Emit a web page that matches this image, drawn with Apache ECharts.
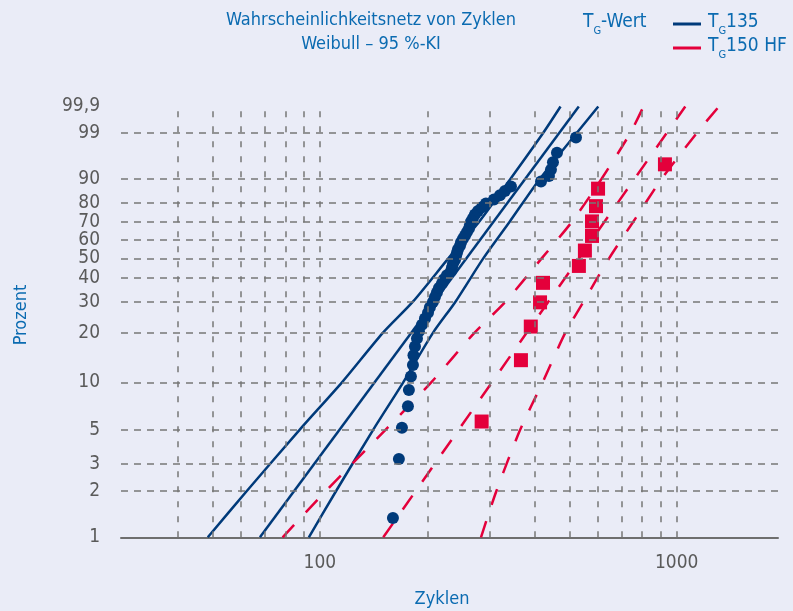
<!DOCTYPE html>
<html><head><meta charset="utf-8">
<script src="https://cdn.jsdelivr.net/npm/echarts@6/dist/echarts.min.js"></script>
<style>html,body{margin:0;padding:0;background:#eaecf7;}#c{width:793px;height:611px;}</style>
</head><body><div id="c"></div>
<script>
// ---------- data ----------
const xMin = 27.7, xMax = 1923;
const xTickLabels = ['100', '1000'];
const yTickPercents = [1, 2, 3, 5, 10, 20, 30, 40, 50, 60, 70, 80, 90, 99, 99.9];
const yTickLabels = ['1', '2', '3', '5', '10', '20', '30', '40', '50', '60', '70', '80', '90', '99', '99,9'];
const hGridPercents = [2, 3, 5, 10, 20, 30, 40, 50, 60, 70, 80, 90, 99];
const vGridCycles = [40, 50, 60, 70, 80, 90, 100, 200, 300, 400, 500, 600, 700, 800, 900, 1000];

const seriesNames = ['TG135', 'TG150 HF'];

// T_G135: [cycles, percent]
const tg135Points = [[160.2,1.34],[166.5,3.24],[169.8,5.15],[176.5,7.06],[177.6,8.97],[179.9,10.88],[182.3,12.79],[182.9,14.69],[184.7,16.6],[187.1,18.51],[189.5,20.42],[193.2,22.33],[197.0,24.24],[200.9,26.15],[203.4,28.05],[207.4,29.96],[210.1,31.87],[212.8,33.78],[215.6,35.69],[219.8,37.6],[222.6,39.5],[227.0,41.41],[232.9,43.32],[234.5,45.23],[236.0,47.14],[239.1,49.05],[240.6,50.95],[242.2,52.86],[243.8,54.77],[247.0,56.68],[248.6,58.59],[251.8,60.5],[255.1,62.4],[258.4,64.31],[261.7,66.22],[263.4,68.13],[265.1,70.04],[268.5,71.95],[272.0,73.85],[277.4,75.76],[284.6,77.67],[292.0,79.58],[307.5,81.49],[319.6,83.4],[330.1,85.31],[343.2,87.21],[416.6,89.12],[438.5,91.03],[444.2,92.94],[450.0,94.85],[461.8,96.76],[522.1,98.66]];
const tg135Fit = [[67.9,1],[531.7,99.9]];
const tg135Lower = [[48.5,1],[62.3,2],[87.7,5],[115.3,10],[150.1,20],[182.0,30],[229.4,50],[279.5,70],[341.9,90],[421.9,99],[472.6,99.9]];
const tg135Upper = [[93.1,1],[110.9,2],[141.0,5],[171.2,10],[207.4,20],[239.6,30],[287.3,50],[340.3,70],[413.3,90],[523.8,99],[602.9,99.9]];

// T_G150 HF: [cycles, percent]
const tg150Points = [[284,5.65],[366,13.71],[390,21.77],[414,29.84],[422,37.9],[532,45.97],[553,54.03],[579,62.1],[579,70.16],[594,78.23],[602,86.29],[927,94.35]];
const tg150Fit = [[150.5,1],[1057,99.9]];
const tg150Lower = [[78.6,1],[103.7,2],[152.7,5],[205.1,10],[271.0,20],[330.8,30],[418.9,50],[508.8,70],[615.5,90],[740.6,99],[807.2,99.9]];
const tg150Upper = [[282.8,1],[312.2,2],[364.1,5],[420.9,10],[487.2,20],[547.6,30],[647.0,50],[755.7,70],[907.1,90],[1137,99],[1313,99.9]];

// ---------- styling ----------
const FF = "'Liberation Sans Narrow','DejaVu Sans Condensed','Noto Sans',sans-serif";
const BLUE = '#003a7a', RED = '#e4003b', TXT = '#0b6bb1', GRAY = '#5a5a5a', GRID = '#777777';

const W = p => Math.log(-Math.log(1 - p / 100)); // Weibull probability scale
const toXY = arr => arr.map(d => [d[0], W(d[1])]);
const yTickVals = yTickPercents.map(W);

const chart = echarts.init(document.getElementById('c'), null, {renderer: 'canvas'});

const lineSeries = (name, data, color, dashed) => ({
  name: name, type: 'line', data: toXY(data), showSymbol: false, symbol: 'none',
  smooth: 0.25, clip: true, z: 3, silent: true,
  lineStyle: {color: color, width: 2.5, type: dashed ? [17, 17] : 'solid'},
  itemStyle: {color: color}
});

const rich = {
  t: {fontSize: 19, color: TXT, fontFamily: FF, lineHeight: 22, verticalAlign: 'top'},
  s: {fontSize: 11, color: TXT, fontFamily: FF, lineHeight: 12, verticalAlign: 'top', padding: [13, 0, 0, 0]}
};
const richG = {
  t: {fontSize: 19, fill: TXT, fontFamily: FF, lineHeight: 22, verticalAlign: 'top'},
  s: {fontSize: 11, fill: TXT, fontFamily: FF, lineHeight: 12, verticalAlign: 'top', padding: [13, 0, 0, 0]}
};

chart.setOption({
  backgroundColor: '#eaecf7',
  animation: false,
  grid: {left: 121, right: 15, top: 106.5, bottom: 73.7, containLabel: false},
  xAxis: {
    type: 'log', logBase: 10, min: xMin, max: xMax,
    axisLine: {show: true, onZero: false, lineStyle: {color: '#6e6e6e', width: 2}},
    axisTick: {show: false}, splitLine: {show: false}, minorTick: {show: false},
    axisLabel: {
      color: GRAY, fontSize: 19, fontFamily: FF, margin: 16,
      formatter: v => { const s = String(Math.round(v)); return xTickLabels.includes(s) ? s : ''; }
    }
  },
  yAxis: {
    type: 'value', min: W(1), max: W(99.9),
    axisLine: {show: false}, axisTick: {show: false}, splitLine: {show: false},
    axisLabel: {
      customValues: yTickVals, color: GRAY, fontSize: 19, fontFamily: FF, margin: 21,
      formatter: v => { let b = 0; yTickVals.forEach((t, i) => { if (Math.abs(t - v) < Math.abs(yTickVals[b] - v)) b = i; }); return yTickLabels[b]; }
    }
  },
  legend: {
    data: seriesNames, orient: 'vertical', left: 668, top: 8, itemWidth: 28, itemHeight: 3,
    icon: 'rect', itemGap: 0, selectedMode: false,
    formatter: n => '{t|T}{s|G}{t|' + n.slice(2) + '}',
    textStyle: {rich: rich, padding: [0, 0, 0, 2]}
  },
  graphic: [
    {type: 'text', position: [371, 20], style: {text: 'Wahrscheinlichkeitsnetz von Zyklen', fill: TXT, font: '18px ' + FF, textAlign: 'center', align: 'center', textVerticalAlign: 'middle', verticalAlign: 'middle'}},
    {type: 'text', position: [371, 44], style: {text: 'Weibull – 95 %-KI', fill: TXT, font: '18px ' + FF, textAlign: 'center', align: 'center', textVerticalAlign: 'middle', verticalAlign: 'middle'}},
    {type: 'text', position: [583, 13], style: {text: '{t|T}{s|G}{t|-Wert}', rich: richG, fill: TXT, textAlign: 'left', align: 'left'}},
    {type: 'text', position: [442, 599], style: {text: 'Zyklen', fill: TXT, font: '18px ' + FF, textAlign: 'center', align: 'center', textVerticalAlign: 'middle', verticalAlign: 'middle'}},
    {type: 'text', position: [21, 315], rotation: Math.PI / 2, style: {text: 'Prozent', fill: TXT, font: '18px ' + FF, textAlign: 'center', align: 'center', textVerticalAlign: 'middle', verticalAlign: 'middle'}}
  ],
  series: [
    {
      type: 'line', data: [], z: 1, silent: true,
      markLine: {
        silent: true, symbol: 'none', label: {show: false}, animation: false,
        data: hGridPercents.map(p => ({yAxis: W(p), lineStyle: {color: GRID, width: 1.5, type: [7, 6]}}))
          .concat(vGridCycles.map(c => ({xAxis: c, lineStyle: {color: GRID, width: 1.5, type: [6, 9]}})))
      }
    },
    lineSeries(seriesNames[0], tg135Fit, BLUE, false),
    lineSeries('', tg135Lower, BLUE, false),
    lineSeries('', tg135Upper, BLUE, false),
    lineSeries(seriesNames[1], tg150Fit, RED, true),
    lineSeries('', tg150Lower, RED, true),
    lineSeries('', tg150Upper, RED, true),
    {type: 'scatter', data: toXY(tg135Points), symbol: 'circle', symbolSize: 12, z: 4, silent: true,
     itemStyle: {color: BLUE, opacity: 1}},
    {type: 'scatter', data: toXY(tg150Points), symbol: 'rect', symbolSize: 14, z: 4, silent: true,
     itemStyle: {color: RED, opacity: 1}}
  ]
});
</script></body></html>
